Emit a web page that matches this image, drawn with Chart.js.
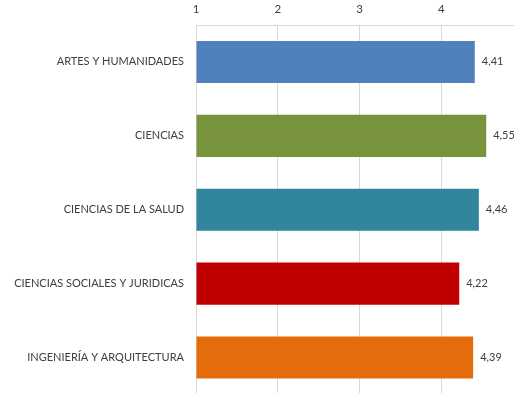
<!DOCTYPE html>
<html>
<head>
<meta charset="utf-8">
<script src="https://cdn.jsdelivr.net/npm/chart.js@4"></script>
<style>
  html, body { margin: 0; padding: 0; background: #fff; overflow: hidden; }
  canvas { display: block; }
</style>
</head>
<body>
<canvas id="areas-chart" width="542" height="413"></canvas>
<script>
const categories = [
  'ARTES Y HUMANIDADES',
  'CIENCIAS',
  'CIENCIAS DE LA SALUD',
  'CIENCIAS SOCIALES Y JURIDICAS',
  'INGENIERÍA Y ARQUITECTURA',
];
const scores = [4.41, 4.55, 4.46, 4.22, 4.39];
const barColors = ['#4F81BD', '#77933C', '#31859C', '#C00000', '#E46C0A'];
const axisTicks = [1, 2, 3, 4, 5];

const TEXT_COLOR = '#404040';
const GRID_COLOR = '#d9d9d9';
const FONT = 'Lato, "Open Sans", sans-serif';

// comma decimal labels to the right of each bar
const valueLabels = {
  id: 'valueLabels',
  afterDatasetsDraw(chart) {
    const { ctx } = chart;
    const meta = chart.getDatasetMeta(0);
    ctx.save();
    ctx.font = `11px ${FONT}`;
    ctx.fillStyle = TEXT_COLOR;
    ctx.textAlign = 'left';
    ctx.textBaseline = 'middle';
    meta.data.forEach((bar, i) => {
      ctx.fillText(scores[i].toFixed(2).replace('.', ','), bar.x + 7, bar.y);
    });
    ctx.restore();
  },
};

const chart = new Chart(document.getElementById('areas-chart'), {
  type: 'bar',
  data: {
    labels: categories,
    datasets: [{
      data: scores,
      base: 1,
      backgroundColor: barColors,
      borderWidth: 0,
      barPercentage: 0.57,
      categoryPercentage: 1,
    }],
  },
  options: {
    indexAxis: 'y',
    responsive: false,
    animation: false,
    layout: { padding: { top: 0, left: 0, right: 19, bottom: 5 } },
    plugins: { legend: { display: false }, tooltip: { enabled: false } },
    scales: {
      x: {
        position: 'top',
        min: axisTicks[0],
        max: axisTicks[axisTicks.length - 1],
        afterBuildTicks: (scale) => { scale.ticks = axisTicks.map((v) => ({ value: v })); },
        afterFit: (scale) => { scale.height = 25; },
        grid: { color: GRID_COLOR, drawTicks: false },
        border: { color: GRID_COLOR },
        ticks: { color: TEXT_COLOR, padding: 9, font: { family: FONT, size: 11.5 } },
      },
      y: {
        afterFit: (scale) => { scale.width = 196; },
        grid: { display: false, drawTicks: false },
        border: { color: GRID_COLOR },
        ticks: { color: TEXT_COLOR, padding: 12, font: { family: FONT, size: 11 } },
      },
    },
  },
  plugins: [valueLabels],
});
</script>
</body>
</html>
